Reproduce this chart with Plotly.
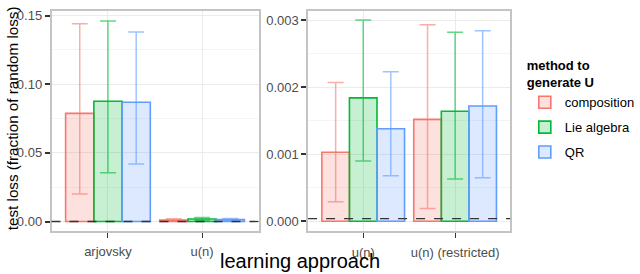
import plotly.graph_objects as go

# ---- data ----
methods = ["composition", "Lie algebra", "QR"]
colors = ["#F8766D", "#00BA38", "#619CFF"]

left_categories = ["arjovsky", "u(n)"]
left_mean = {
    "composition": [0.0788, 0.00103],
    "Lie algebra": [0.0876, 0.00184],
    "QR": [0.0869, 0.00138],
}
left_lower = {
    "composition": [0.0200, 0.00029],
    "Lie algebra": [0.0355, 0.00090],
    "QR": [0.0420, 0.00068],
}
left_upper = {
    "composition": [0.1440, 0.00207],
    "Lie algebra": [0.1460, 0.00300],
    "QR": [0.1380, 0.00223],
}

right_categories = ["u(n)", "u(n) (restricted)"]
right_mean = {
    "composition": [0.00103, 0.00152],
    "Lie algebra": [0.00184, 0.00164],
    "QR": [0.00138, 0.00172],
}
right_lower = {
    "composition": [0.00029, 0.00019],
    "Lie algebra": [0.00090, 0.00063],
    "QR": [0.00068, 0.00065],
}
right_upper = {
    "composition": [0.00207, 0.00293],
    "Lie algebra": [0.00300, 0.00282],
    "QR": [0.00223, 0.00284],
}

random_baseline = 0.00004

left_yticks = [0.0, 0.05, 0.10, 0.15]
left_yticklabels = ["0.00", "0.05", "0.10", "0.15"]
right_yticks = [0.0, 0.001, 0.002, 0.003]
right_yticklabels = ["0.000", "0.001", "0.002", "0.003"]


def rgba(hexc, a):
    h = hexc.lstrip("#")
    r, g, b = int(h[0:2], 16), int(h[2:4], 16), int(h[4:6], 16)
    return f"rgba({r},{g},{b},{a})"


fig = go.Figure()

for panel, (cats, mean, lo, hi, xa, ya) in enumerate([
    (left_categories, left_mean, left_lower, left_upper, "x", "y"),
    (right_categories, right_mean, right_lower, right_upper, "x2", "y2"),
]):
    for m, c in zip(methods, colors):
        vals = mean[m]
        plus = [h - v for h, v in zip(hi[m], vals)]
        minus = [v - l for v, l in zip(vals, lo[m])]
        fig.add_trace(go.Bar(
            x=cats, y=vals, name=m, legendgroup=m,
            showlegend=(panel == 0),
            xaxis=xa, yaxis=ya,
            marker=dict(color=rgba(c, 0.22), line=dict(color=c, width=1.6)),
            error_y=dict(type="data", symmetric=False, array=plus, arrayminus=minus,
                         color=rgba(c, 0.6), thickness=1.5, width=8),
        ))

tickfont = dict(family="Liberation Sans, Arial, sans-serif", size=13, color="#4D4D4D")
grid = "#EBEBEB"
border = "#C4C4C4"

common_x = dict(type="category", showgrid=True, gridcolor=grid, gridwidth=1,
                showline=True, mirror=True, linecolor=border, linewidth=1.5,
                ticks="outside", ticklen=5, tickwidth=1.2, tickcolor="#333333",
                ticklabelstandoff=3,
                tickfont=tickfont, range=[-0.6, 1.6], zeroline=False)
common_y = dict(showgrid=True, gridcolor=grid, gridwidth=1,
                showline=True, mirror=True, linecolor=border, linewidth=1.5,
                ticks="outside", ticklen=5, tickwidth=1.5, tickcolor="#333333",
                tickfont=tickfont, zeroline=False)

fig.update_layout(
    width=640, height=274,
    margin=dict(l=0, r=0, t=0, b=0),
    paper_bgcolor="white", plot_bgcolor="white",
    barmode="group", bargap=0.1, bargroupgap=0,
    font=dict(family="Liberation Sans, Arial, sans-serif", color="#000000"),
    xaxis=dict(domain=[53 / 640, 266 / 640], anchor="y", **common_x),
    xaxis2=dict(domain=[317 / 640, 525 / 640], anchor="y2", **common_x),
    yaxis=dict(domain=[1 - 230.5 / 274, 1 - 8 / 274], anchor="x",
               range=[-0.00685, 0.1534], tickvals=left_yticks, ticktext=left_yticklabels,
               minor=dict(tickvals=[0.025, 0.075, 0.125], showgrid=True, gridcolor="#F4F4F4", ticks=""),
               **common_y),
    yaxis2=dict(domain=[1 - 231 / 274, 1 - 8 / 274], anchor="x2",
                range=[-0.000152, 0.003137], tickvals=right_yticks, ticktext=right_yticklabels,
                minor=dict(tickvals=[0.0005, 0.0015, 0.0025], showgrid=True, gridcolor="#F4F4F4", ticks=""),
                **common_y),
    legend=dict(
        x=540 / 640, y=1 - 51 / 274, xanchor="left", yanchor="top",
        title=dict(text="<b>method to<br>generate U</b>", font=dict(size=13)),
        font=dict(size=13, color="#000000"),
        traceorder="grouped", tracegroupgap=5,
        bgcolor="rgba(0,0,0,0)",
    ),
    annotations=[
        dict(text="learning approach", xref="paper", yref="paper",
             x=309 / 640, y=0, xanchor="center", yanchor="bottom", yshift=0,
             showarrow=False, font=dict(size=20, color="#000000")),
        dict(text="test loss (fraction of random loss)", xref="paper", yref="paper",
             x=2 / 640, y=1 - 116 / 274, xanchor="left", yanchor="middle",
             textangle=-90, showarrow=False, font=dict(size=15.2, color="#000000")),
    ],
    shapes=[
        dict(type="line", xref="x domain", yref="y", x0=0, x1=1,
             y0=random_baseline, y1=random_baseline, layer="above",
             line=dict(color="#333333", width=1.3, dash="dash")),
        dict(type="line", xref="x2 domain", yref="y2", x0=0, x1=1,
             y0=random_baseline, y1=random_baseline, layer="above",
             line=dict(color="#333333", width=1.3, dash="dash")),
    ],
)

fig.write_html("out.html", config={"displayModeBar": False},
               post_script="document.body.style.margin='0px';")
